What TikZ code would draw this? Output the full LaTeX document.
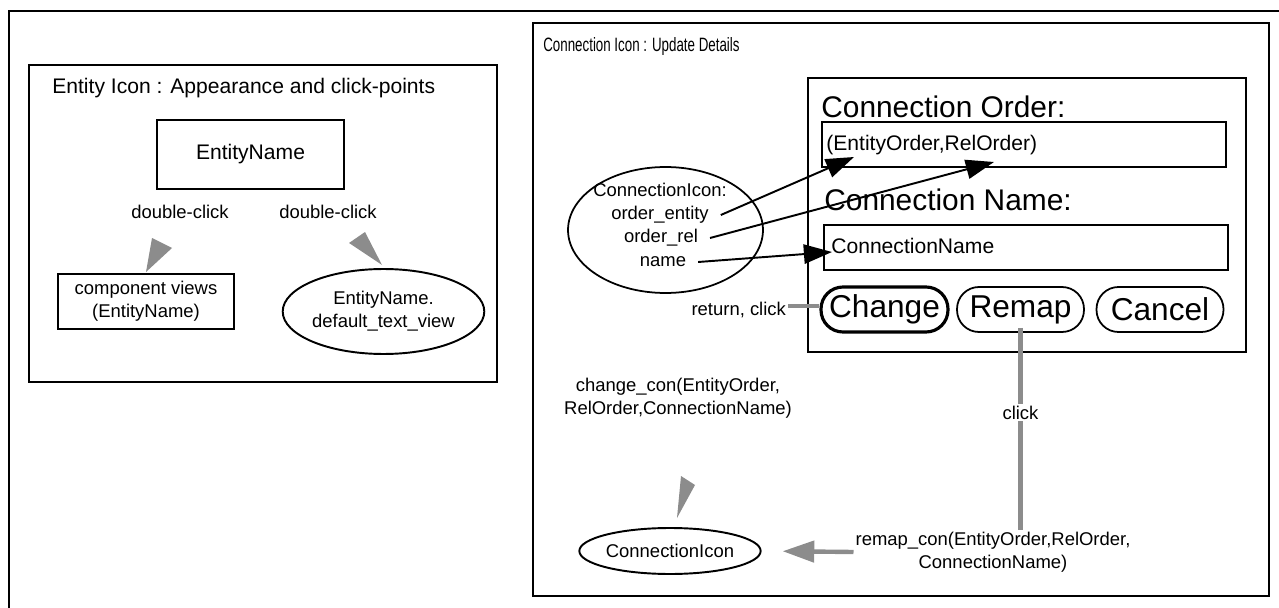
\documentclass[tikz,border=0pt]{standalone}
\usepackage{fontspec}
\setmainfont{Liberation Sans}
\usetikzlibrary{positioning,arrows.meta,shapes.geometric}

\begin{document}
\begin{tikzpicture}[
    x=0.02cm, y=-0.02cm,
    frame/.style={draw, line width=1.1pt},
    box/.style={rectangle, draw, line width=1.1pt, inner sep=0pt},
    lbl/.style={font=\fontsize{10.5pt}{13pt}\selectfont, align=center, inner sep=1pt},
    field/.style={font=\fontsize{12pt}{14pt}\selectfont, anchor=west, inner sep=0pt},
    heading/.style={font=\fontsize{17pt}{20pt}\selectfont, anchor=west, inner sep=0pt},
    button/.style={rectangle, draw, rounded corners=12.5pt, line width=1pt, minimum width=2.54cm, minimum height=0.9cm, inner sep=0pt, font=\fontsize{18pt}{20pt}\selectfont},
    conn/.style={-{Triangle[length=16pt,width=11pt]}, line width=1.1pt},
    grayconn/.style={line width=2.5pt, draw=black!45},
    tipfill/.style={fill=black!45}
]
    \useasboundingbox (0,0) rectangle (1279,608);
    \draw[frame] (9,11) rectangle (1300,630);

    % entity icon panel
    \draw[frame] (29,65) rectangle (497,382);
    \node[anchor=west, inner sep=0pt, font=\fontsize{12pt}{14pt}\selectfont] (enttitle) at (52,88) {Entity Icon : Appearance and click-points};
    \node[box, minimum width=3.74cm, minimum height=1.38cm, font=\fontsize{12pt}{14pt}\selectfont] (entity) at (250.5,154.5) {EntityName};
    \node[lbl] (dclick1) at (180,212) {double-click};
    \node[lbl] (dclick2) at (328,212) {double-click};
    \node[box, minimum width=3.52cm, minimum height=1.1cm, font=\fontsize{10.5pt}{13pt}\selectfont, align=center] (compview) at (146,301.5) {component views\\(EntityName)};
    \node[ellipse, draw, line width=1.1pt, minimum width=3.74cm, minimum height=1.7cm, inner sep=0pt, font=\fontsize{10.5pt}{13pt}\selectfont, align=center] (textview) at (383.5,311.5) {EntityName.\\default\_text\_view};
    \fill[tipfill] (152,238) -- (172,248) -- (146,272) -- cycle;
    \fill[tipfill] (349,243) -- (365,232) -- (382,265) -- cycle;

    % connection icon panel
    \draw[frame] (533,23) rectangle (1269,596);
    \node[anchor=west, inner sep=0pt, font=\fontsize{11pt}{13pt}\selectfont] (contitle) at (543,47) {\scalebox{0.69}[1]{Connection Icon : Update Details}};
    \draw[frame] (808,78) rectangle (1246,352);
    \node[heading] (ordhead) at (821,107) {Connection Order:};
    \node[box, minimum width=8.08cm, minimum height=0.9cm] (ordbox) at (1024,144.5) {};
    \node[field] (ordtext) at (826,145) {(EntityOrder,RelOrder)};
    \node[heading] (namehead) at (824,200) {Connection Name:};
    \node[box, minimum width=8.08cm, minimum height=0.9cm] (namebox) at (1026,247.5) {};
    \node[field] (nametext) at (831,246) {ConnectionName};
    \node[button, line width=1.8pt] (change) at (884.5,309.5) {Change};
    \node[button] (remap) at (1020.5,309.5) {Remap};
    \node[button] (cancel) at (1160,309.5) {Cancel};

    \node[ellipse, draw, line width=1pt, minimum width=3.9cm, minimum height=2.52cm, inner sep=0pt] (conicon) at (665.5,230) {};
    \node[lbl] (ciname) at (660,190) {ConnectionIcon:};
    \node[lbl] (ordent) at (660,215) {order\_entity};
    \node[lbl] (ordrel) at (661,238) {order\_rel};
    \node[lbl] (nm) at (663,262) {name};
    \coordinate (tipent) at (854,157);
    \coordinate (tiprel) at (994,162);
    \coordinate (tipname) at (832,252);
    \draw[conn] (ordent.east) ++(10,0) -- (tipent);
    \draw[conn] (ordrel.east) ++(10,0) -- (tiprel);
    \draw[conn] (nm.east) ++(10,0) -- (tipname);

    \node[lbl, anchor=east] (retclick) at (788,310) {return, click};
    \draw[grayconn] (retclick.east) ++(0,-4) -- (change.west |- 0,306);

    \node[lbl] (changecon) at (678,398) {change\_con(EntityOrder,\\RelOrder,ConnectionName)};
    \fill[tipfill] (681,476) -- (695,485) -- (677,518) -- cycle;
    \node[ellipse, draw, line width=1.1pt, minimum width=2.9cm, minimum height=0.92cm, inner sep=0pt, font=\fontsize{10.5pt}{13pt}\selectfont] (conicon2) at (670,551) {ConnectionIcon};
    \node[lbl] (remapcon) at (993,552) {remap\_con(EntityOrder,RelOrder,\\ConnectionName)};
    \draw[grayconn, -{Triangle[length=18pt,width=12pt]}, shorten >=0.42cm] (remapcon.west) -- (conicon2.east);
    \draw[grayconn] (remap.south) ++(0,-5) -- node[lbl, fill=white, pos=0.42] (click) {click} (remap.south |- remapcon.north);
\end{tikzpicture}
\end{document}
